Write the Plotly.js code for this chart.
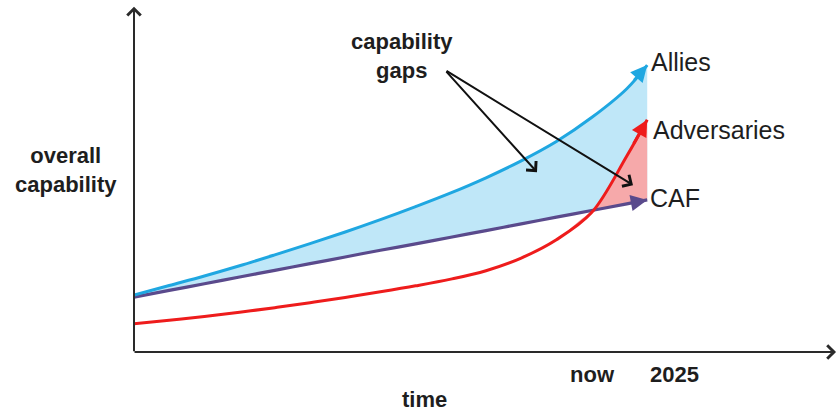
<!DOCTYPE html>
<html>
<head>
<meta charset="utf-8">
<script src="https://cdn.plot.ly/plotly-3.0.1.min.js"></script>
<style>html,body{margin:0;padding:0;background:#fff;}#chart{width:838px;height:411px;}</style>
</head>
<body>
<div id="chart"></div>
<script>
// ---- data (arbitrary units) ----
const time        = [0,    0.5,  1,    1.5,  2,    2.5,  3,    3.5,  4,    4.5,  5,    5.5,  6,    6.5,  7,    7.29];
const allies      = [1.62, 1.89, 2.16, 2.45, 2.76, 3.08, 3.41, 3.76, 4.13, 4.52, 4.95, 5.43, 5.98, 6.66, 7.48, 8.15];
const caf         = [1.56, 1.75, 1.94, 2.13, 2.32, 2.51, 2.70, 2.89, 3.07, 3.26, 3.45, 3.64, 3.83, 4.02, 4.21, 4.32];
const adversaries = [0.80, 0.90, 1.01, 1.13, 1.26, 1.40, 1.55, 1.71, 1.88, 2.07, 2.31, 2.67, 3.19, 3.96, 5.57, 6.60];
const seriesNames = ['Allies', 'Adversaries', 'CAF'];
const axisLabels  = {y: 'overall<br>capability', x: 'time'};
const tickLabels  = ['now', '2025'];
const gapLabel    = 'capability<br>gaps';

const BLUE = '#1FA7E1', BLUE_FILL = '#BFE7F8';
const RED = '#EE1C1C', RED_FILL = '#F6A9AA';
const PURPLE = '#5A4A8C';
const TXT = '#1E1E1E';
const FONT = 'Liberation Sans, Arial, sans-serif';

const advBase = adversaries.map((a, i) => Math.min(a, caf[i]));
const hidden = {mode: 'lines', line: {width: 0, shape: 'spline'}, hoverinfo: 'skip', showlegend: false};

const traces = [
  Object.assign({x: time, y: caf}, hidden),
  Object.assign({}, hidden, {x: time, y: allies, fill: 'tonexty', fillcolor: BLUE_FILL}),
  Object.assign({x: time, y: advBase}, hidden),
  Object.assign({}, hidden, {x: time, y: adversaries, fill: 'tonexty', fillcolor: RED_FILL}),
  {x: time, y: caf, mode: 'lines', name: seriesNames[2], line: {color: PURPLE, width: 3.2, shape: 'spline'}, hoverinfo: 'skip'},
  {x: time, y: adversaries, mode: 'lines', name: seriesNames[1], line: {color: RED, width: 3, shape: 'spline'}, hoverinfo: 'skip'},
  {x: time, y: allies, mode: 'lines', name: seriesNames[0], line: {color: BLUE, width: 3, shape: 'spline'}, hoverinfo: 'skip'}
];

const n = time.length - 1;
function endArrow(ys, color) {
  return {x: time[n], y: ys[n], ax: time[n - 1] + 0.3 * (time[n] - time[n - 1]), ay: ys[n - 1] + 0.3 * (ys[n] - ys[n - 1]),
    xref: 'x', yref: 'y', axref: 'x', ayref: 'y', text: '', showarrow: true,
    arrowhead: 2, arrowsize: 1.1, arrowwidth: 3, arrowcolor: color, standoff: 0};
}
function label(text, x, y, size, opts) {
  return Object.assign({x: x, y: y, xref: 'x', yref: 'y', text: text, showarrow: false,
    xanchor: 'left', yanchor: 'middle', font: {family: FONT, size: size, color: TXT}}, opts || {});
}

const annotations = [
  endArrow(caf, PURPLE), endArrow(adversaries, RED), endArrow(allies, BLUE),
  // axes with arrowheads
  {x: 0, y: 0.981, xref: 'paper', yref: 'paper', ax: 0, ay: 346, text: '', showarrow: true,
   arrowhead: 4, arrowsize: 1.3, arrowwidth: 2, arrowcolor: '#2a2a2a', standoff: 0},
  {x: 0.9972, y: 0, xref: 'paper', yref: 'paper', ax: -703, ay: 0, text: '', showarrow: true,
   arrowhead: 4, arrowsize: 1.3, arrowwidth: 2, arrowcolor: '#2a2a2a', standoff: 0},
  // capability gap pointers
  {x: 5.724, y: 5.11, ax: 4.418, ay: 8.01, xref: 'x', yref: 'y', axref: 'x', ayref: 'y', text: '', showarrow: true,
   arrowhead: 4, arrowsize: 1.3, arrowwidth: 2, arrowcolor: '#111', standoff: 0},
  {x: 7.088, y: 4.74, ax: 4.418, ay: 8.01, xref: 'x', yref: 'y', axref: 'x', ayref: 'y', text: '', showarrow: true,
   arrowhead: 4, arrowsize: 1.3, arrowwidth: 2, arrowcolor: '#111', standoff: 0},
  // series labels
  label(seriesNames[0], 7.31, 8.24, 25),
  label(seriesNames[1], 7.34, 6.31, 25),
  label(seriesNames[2], 7.30, 4.375, 25),
  // bold labels
  label('<b>' + gapLabel + '</b>', 3.81, 8.41, 22, {xanchor: 'center', align: 'center'}),
  label('<b>' + axisLabels.y + '</b>', -0.096, 0.517, 22, {xref: 'paper', yref: 'paper', xanchor: 'center', align: 'center'}),
  label('<b>' + axisLabels.x + '</b>', 0.413, -0.136, 22, {xref: 'paper', yref: 'paper', xanchor: 'center'}),
  label('<b>' + tickLabels[0] + '</b>', 0.651, -0.065, 22, {xref: 'paper', yref: 'paper', xanchor: 'center'}),
  label('<b>' + tickLabels[1] + '</b>', 0.768, -0.065, 22, {xref: 'paper', yref: 'paper', xanchor: 'center'})
];

const layout = {
  width: 838, height: 411,
  margin: {l: 134, r: 0, t: 0, b: 59, pad: 0},
  paper_bgcolor: '#fff', plot_bgcolor: '#fff',
  showlegend: false,
  xaxis: {range: [0, 10], visible: false, fixedrange: true},
  yaxis: {range: [0, 10], visible: false, fixedrange: true},
  annotations: annotations
};

Plotly.newPlot('chart', traces, layout, {displayModeBar: false, staticPlot: true});
</script>
</body>
</html>
